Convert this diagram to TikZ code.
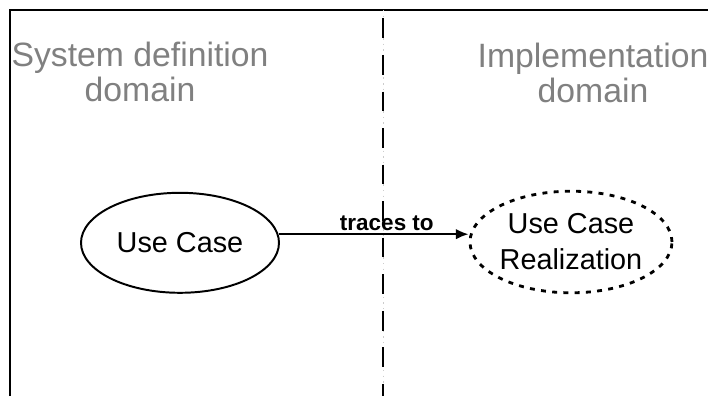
\documentclass[tikz,border=0pt]{standalone}
\usepackage{fontspec}
\setmainfont{Liberation Sans}
\usetikzlibrary{arrows.meta}
\usetikzlibrary{shapes.geometric}
\tikzset{>={Latex[length=9pt,width=7.5pt]}}
\tikzset{
	usecase/.style={ellipse, draw, line width=1.4pt, minimum width=4.95cm, minimum height=2.5cm, inner sep=0pt, align=center, font=\fontsize{20.5}{25.5}\selectfont},
	realization/.style={usecase, minimum width=5.05cm, minimum height=2.54cm, line width=2pt, dash pattern=on 3.5pt off 4.5pt},
	domainlabel/.style={text=gray, align=center, font=\fontsize{24}{25}\selectfont},
	divider/.style={line width=2pt, dash pattern=on 14pt off 12pt, dash phase=-6pt}
}

\begin{document}
\begin{tikzpicture}
	\fill[white] (0,0) rectangle (17.7,9.9);
	\useasboundingbox (0,0) rectangle (17.7,9.9);

	% frame
	\coordinate (topleft) at (0.25,9.65);
	\coordinate (topright) at (17.7,9.65);
	\coordinate (botleft) at (0.25,0);
	\draw[line width=1.6pt] (botleft) -- (topleft) -- (topright);

	% divider between the two domains
	\coordinate (divtop) at (9.575,9.65);
	\coordinate (divbot) at (9.575,0);
	\draw[gray!40, line width=0.5pt, dash pattern=on 1pt off 3pt] (divtop) -- (divbot);
	\draw[divider] (divtop) -- (divbot);

	\node[domainlabel] (sysdom) at (3.5,8.1) {System definition\\domain};
	\node[domainlabel] (impldom) at (14.825,8.075) {Implementation\\domain};

	\node[usecase] (uc) at (4.5,3.83) {Use Case};
	\node[realization] (ucr) at (14.275,3.85) {Use Case\\Realization};

	\draw[->, line width=1.5pt] (uc.5) -- (uc.5 -| ucr.west)
		node[pos=0.57, above, inner sep=2pt, font=\bfseries\fontsize{16}{18}\selectfont] (traces) {traces to};
\end{tikzpicture}
\end{document}
